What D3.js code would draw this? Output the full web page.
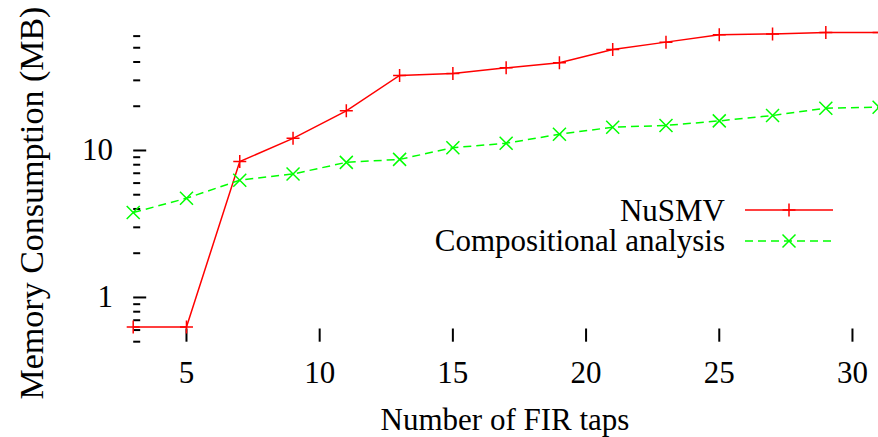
<!DOCTYPE html>
<html>
<head>
<meta charset="utf-8">
<script src="https://cdn.jsdelivr.net/npm/d3@7"></script>
<style>
  body { margin: 0; background: #fff; }
  svg text { font-family: "Liberation Serif", "Times New Roman", serif; font-size: 31px; fill: #000; }
</style>
</head>
<body>
<div id="chart"></div>
<script>
// data
var taps = [3, 5, 7, 9, 11, 13, 15, 17, 19, 21, 23, 25, 27, 29, 31];
var nusmv = [0.63, 0.63, 8.4, 12.1, 18.6, 32.4, 33.4, 36.5, 39.5, 48.7, 54.6, 61.2, 62.1, 63.5, 63.5];
var compositional = [3.78, 4.73, 6.28, 6.92, 8.3, 8.7, 10.45, 11.2, 12.9, 14.4, 14.8, 15.9, 17.3, 19.4, 19.7];
var xTicks = [5, 10, 15, 20, 25, 30];
var yMajor = [1, 10];
var yMinor = [0.5, 0.6, 0.7, 0.8, 0.9, 2, 3, 4, 5, 6, 7, 8, 9, 20, 30, 40, 50, 60];
var seriesNames = ["NuSMV", "Compositional analysis"];

var width = 878, height = 437;

var svg = d3.select("#chart")
  .append("svg")
    .attr("width", width)
    .attr("height", height);

// x scale: 3 -> 133.2, 31 -> 879
var x = d3.scaleLinear()
    .domain([3, 31])
    .range([133.2, 879.1]);

// y scale: log, one decade ~147px
var y = d3.scaleLog()
    .domain([0.5, 64])
    .range([341.7, 297.5 - Math.log10(64) * 147]);

// y ticks, drawn inward from the left edge
svg.append("g").selectAll("line.major")
  .data(yMajor)
  .enter().append("line")
    .attr("x1", x(3)).attr("x2", x(3) + 13)
    .attr("y1", function(d) { return y(d); })
    .attr("y2", function(d) { return y(d); })
    .attr("stroke", "#000").attr("stroke-width", 2);

svg.append("g").selectAll("line.minor")
  .data(yMinor)
  .enter().append("line")
    .attr("x1", x(3)).attr("x2", x(3) + 7)
    .attr("y1", function(d) { return y(d); })
    .attr("y2", function(d) { return y(d); })
    .attr("stroke", "#000").attr("stroke-width", 2);

svg.append("g").selectAll("text")
  .data(yMajor)
  .enter().append("text")
    .attr("x", 113)
    .attr("y", function(d) { return y(d) + 10; })
    .attr("text-anchor", "end")
    .text(function(d) { return d; });

// x ticks
svg.append("g").selectAll("line")
  .data(xTicks)
  .enter().append("line")
    .attr("x1", function(d) { return x(d); })
    .attr("x2", function(d) { return x(d); })
    .attr("y1", 341.7).attr("y2", 328.5)
    .attr("stroke", "#000").attr("stroke-width", 2);

svg.append("g").selectAll("text")
  .data(xTicks)
  .enter().append("text")
    .attr("x", function(d) { return x(d); })
    .attr("y", 383)
    .attr("text-anchor", "middle")
    .text(function(d) { return d; });

// axis titles
svg.append("text")
  .attr("x", 505).attr("y", 430)
  .attr("text-anchor", "middle")
  .text("Number of FIR taps");

svg.append("text")
  .attr("transform", "translate(43,203) rotate(-90)")
  .attr("text-anchor", "middle")
  .style("font-size", "34px")
  .text("Memory Consumption (MB)");

// series
var line = d3.line()
  .x(function(d) { return x(d[0]); })
  .y(function(d) { return y(d[1]); });

var redPts = d3.zip(taps, nusmv);
var greenPts = d3.zip(taps, compositional);

svg.append("path")
  .datum(redPts)
  .attr("d", line)
  .attr("fill", "none")
  .attr("stroke", "#ff0000")
  .attr("stroke-width", 1.5);

svg.append("path")
  .datum(greenPts)
  .attr("d", line)
  .attr("fill", "none")
  .attr("stroke", "#00ff00")
  .attr("stroke-width", 1.5)
  .attr("stroke-dasharray", "8,5");

function plus(g, cx, cy, s) {
  g.append("path")
    .attr("d", "M" + (cx - s) + "," + cy + "H" + (cx + s) + "M" + cx + "," + (cy - s) + "V" + (cy + s))
    .attr("stroke", "#ff0000").attr("stroke-width", 1.5).attr("fill", "none");
}
function cross(g, cx, cy, s) {
  g.append("path")
    .attr("d", "M" + (cx - s) + "," + (cy - s) + "L" + (cx + s) + "," + (cy + s) +
               "M" + (cx - s) + "," + (cy + s) + "L" + (cx + s) + "," + (cy - s))
    .attr("stroke", "#00ff00").attr("stroke-width", 1.5).attr("fill", "none");
}

var marks = svg.append("g");
redPts.forEach(function(d) { plus(marks, x(d[0]), y(d[1]), 6.5); });
greenPts.forEach(function(d) { cross(marks, x(d[0]), y(d[1]), 6.5); });

// legend
var legend = svg.append("g");
legend.append("text")
  .attr("x", 725).attr("y", 220.5)
  .attr("text-anchor", "end")
  .text(seriesNames[0]);
legend.append("text")
  .attr("x", 725).attr("y", 250.5)
  .attr("text-anchor", "end")
  .text(seriesNames[1]);

legend.append("line")
  .attr("x1", 745).attr("x2", 833).attr("y1", 210).attr("y2", 210)
  .attr("stroke", "#ff0000").attr("stroke-width", 1.5);
plus(legend, 789, 210, 6.5);

legend.append("line")
  .attr("x1", 745).attr("x2", 833).attr("y1", 241).attr("y2", 241)
  .attr("stroke", "#00ff00").attr("stroke-width", 1.5)
  .attr("stroke-dasharray", "8,5");
cross(legend, 789, 241, 6.5);
</script>
</body>
</html>
